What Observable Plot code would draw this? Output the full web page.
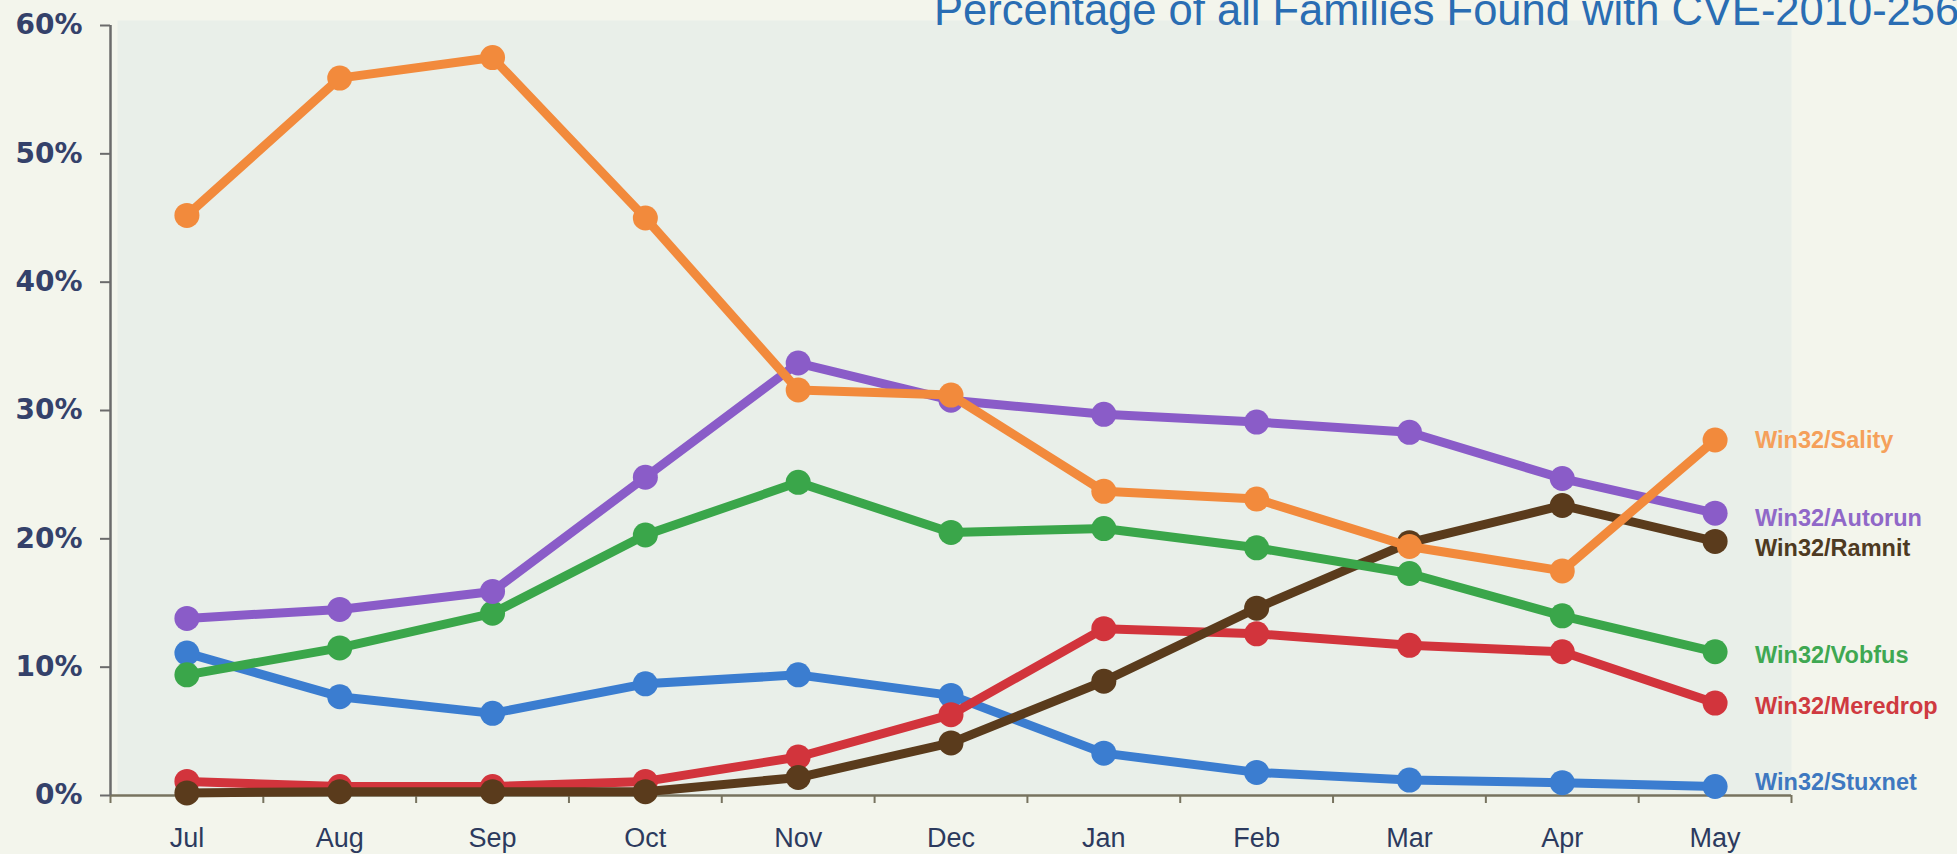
<!DOCTYPE html>
<html><head><meta charset="utf-8">
<script src="https://cdn.jsdelivr.net/npm/d3@7"></script>
<script src="https://cdn.jsdelivr.net/npm/@observablehq/plot@0.6"></script>
<style>
html,body{margin:0;padding:0;background:#f3f5ec;overflow:hidden;width:1957px;height:854px}
#wrap{position:relative;width:1957px;height:854px;overflow:hidden}
#title{position:absolute;left:934px;top:-11px;font:43.5px/43.5px "Liberation Sans",Arial,sans-serif;color:#2a6db3;white-space:nowrap}
</style></head><body>
<div id="wrap"><div id="chart"></div><div id="title">Percentage of all Families Found with CVE-2010-2568</div></div>
<script>
const months = ["Jul","Aug","Sep","Oct","Nov","Dec","Jan","Feb","Mar","Apr","May"];
const yTicks = [0,10,20,30,40,50,60];
const sality   = [45.2,55.9,57.5,45.0,31.6,31.2,23.7,23.1,19.4,17.5,27.7];
const autorun  = [13.8,14.5,15.9,24.8,33.7,30.8,29.7,29.1,28.3,24.7,22.0];
const vobfus   = [9.4,11.5,14.2,20.3,24.4,20.5,20.8,19.3,17.3,14.0,11.2];
const stuxnet  = [11.1,7.7,6.4,8.7,9.4,7.8,3.3,1.8,1.2,1.0,0.7];
const meredrop = [1.1,0.7,0.7,1.1,3.0,6.3,13.0,12.6,11.7,11.2,7.2];
const ramnit   = [0.2,0.3,0.3,0.3,1.4,4.1,8.9,14.6,19.7,22.6,19.8];

// styling (drawing order: bottom to top)
const series = [
  {name:"Win32/Stuxnet",  values:stuxnet,  color:"#3b7dd0", label:"#3e78c0", dy:-4},
  {name:"Win32/Meredrop", values:meredrop, color:"#d2343c", label:"#cf3a40", dy:3},
  {name:"Win32/Ramnit",   values:ramnit,   color:"#5a3b1c", label:"#4e3a22", dy:7},
  {name:"Win32/Vobfus",   values:vobfus,   color:"#3aa64a", label:"#3fa852", dy:4},
  {name:"Win32/Autorun",  values:autorun,  color:"#8a5cc8", label:"#9068c8", dy:5},
  {name:"Win32/Sality",   values:sality,   color:"#f28a3c", label:"#f5a05a", dy:0}
];

const boundaries = d3.range(-0.5, months.length, 1);
const font = "'Liberation Sans', Arial, sans-serif";

const marks = [
  Plot.frame({fill:"#e9efe9", stroke:null, insetLeft:7, insetTop:-5}),
  Plot.ruleY([0], {stroke:"#77735f", strokeWidth:2.5}),
  Plot.ruleX([-0.5], {stroke:"#6b6b6b", strokeWidth:2.5}),
  Plot.axisX({ticks: boundaries, tickSize: 8, tickFormat: () => "", stroke:"#77735f", strokeWidth:2, label:null}),
  Plot.axisX({ticks: d3.range(months.length), tickSize: 0, tickPadding: 32, tickFormat: i => months[i], fontSize: 27, fill:"#2c3a5e", label:null}),
  Plot.axisY({ticks: yTicks, tickSize: 10, tickPadding: 18, tickFormat: d => d + "%", fontSize: 28, fontWeight:"bold", fontFamily:"'DejaVu Sans', Verdana, sans-serif", fill:"#34416a", stroke:"#6b6b6b", strokeWidth:2, label:null})
];

for (const s of series) {
  const rows = s.values.map((v, i) => ({i, value: v}));
  marks.push(Plot.line(rows, {x:"i", y:"value", stroke:s.color, strokeWidth:9, strokeLinejoin:"round", strokeLinecap:"round"}));
  marks.push(Plot.dot(rows, {x:"i", y:"value", r:12.5, fill:s.color}));
}
for (const s of series) {
  const last = s.values.length - 1;
  marks.push(Plot.text([{i:last, value:s.values[last]}], {
    x:"i", y:"value", text: () => s.name, dx:40, dy:s.dy, textAnchor:"start",
    fill:s.label, fontWeight:"bold", fontSize:23.5, style:"letter-spacing:0.6px"
  }));
}

const chart = Plot.plot({
  width: 1957, height: 854,
  marginLeft: 110, marginRight: 166, marginTop: 25, marginBottom: 59,
  style: {fontFamily: font, background: "#f3f5ec", overflow: "visible"},
  x: {domain: [-0.5, months.length - 0.5]},
  y: {domain: [0, 60]},
  marks
});
document.getElementById("chart").appendChild(chart);
</script>
</body></html>
